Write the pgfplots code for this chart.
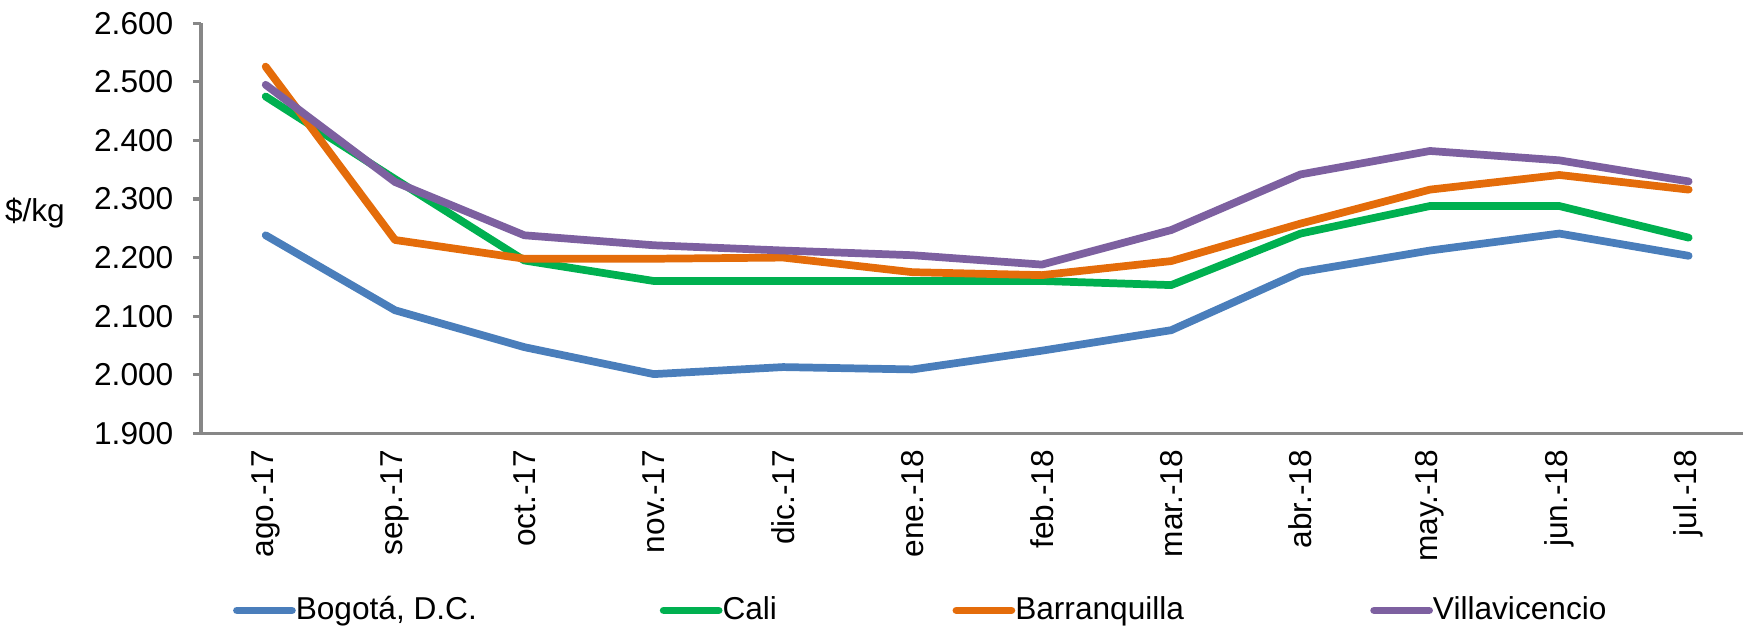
\documentclass[border=0pt]{standalone}
\usepackage{fontspec}
\setmainfont{Liberation Sans}
\usepackage{pgfplots}
\pgfplotsset{compat=1.18}
\definecolor{bogblue}{RGB}{74,126,187}
\definecolor{caligreen}{RGB}{0,176,80}
\definecolor{barorange}{RGB}{228,108,10}
\definecolor{villapurple}{RGB}{125,96,160}
\newcommand{\chartfont}{\fontsize{9}{11}\selectfont}

\begin{document}
\begin{tikzpicture}
\begin{axis}[
  name=ax,
  scale only axis,
  width=15.42cm, height=4.10cm,
  xmin=-0.5, xmax=11.42,
  ymin=1900, ymax=2600,
  ytick distance=100,
  scaled y ticks=false,
  xtick={0,...,11},
  xticklabels={ago.-17,sep.-17,oct.-17,nov.-17,dic.-17,ene.-18,feb.-18,mar.-18,abr.-18,may.-18,jun.-18,jul.-18},
  axis x line*=bottom,
  axis y line*=left,
  axis line style={draw=black!47, line width=0.9pt, -},
  x axis line style={-},
  y axis line style={-},
  tick align=outside,
  x tick style={draw=none},
  y tick style={draw=black!47, line width=0.9pt},
  major tick length=0.8mm,
  /pgf/number format/.cd, 1000 sep={.}, assume math mode=true,
  /pgfplots/.cd,
  tick label style={font=\chartfont},
  xticklabel style={rotate=90, anchor=east, inner sep=0pt, xshift=-0.8mm},
  yticklabel style={inner sep=0pt, xshift=-1.9mm},
  ylabel={\$/kg},
  ylabel style={rotate=-90, font=\chartfont, at={(axis description cs:-0.1077,0.537)}, anchor=center},
  legend columns=4,
  legend style={draw=none, fill=none, font=\chartfont, inner sep=0pt, outer sep=0pt,
    at={(axis description cs:0.0208,-0.432)}, anchor=west,
    nodes={inner sep=0pt},
    /tikz/every odd column/.append style={column sep=0cm}},
  legend image code/.code={\draw[#1] (0cm,0cm) -- (0.55cm,0cm);},
  every axis plot/.append style={line width=2.2pt, line join=round, line cap=round, mark=none},
]
% Bogota, D.C.
\addplot[bogblue] coordinates {(0,2238)(1,2110)(2,2047)(3,2001)(4,2013)(5,2009)(6,2041)(7,2076)(8,2175)(9,2212)(10,2241)(11,2203)};
\addlegendentry{\makebox[3.64cm][l]{Bogotá, D.C.}}
% Cali
\addplot[caligreen] coordinates {(0,2475)(1,2334)(2,2195)(3,2160)(4,2160)(5,2160)(6,2160)(7,2153)(8,2241)(9,2288)(10,2288)(11,2234)};
\addlegendentry{\makebox[2.30cm][l]{Cali}}
% Barranquilla
\addplot[barorange] coordinates {(0,2526)(1,2230)(2,2198)(3,2198)(4,2200)(5,2175)(6,2170)(7,2194)(8,2258)(9,2316)(10,2341)(11,2316)};
\addlegendentry{\makebox[3.55cm][l]{Barranquilla}}
% Villavicencio
\addplot[villapurple] coordinates {(0,2495)(1,2329)(2,2238)(3,2221)(4,2212)(5,2204)(6,2188)(7,2247)(8,2342)(9,2382)(10,2366)(11,2330)};
\addlegendentry{Villavicencio}
\end{axis}
\pgfresetboundingbox
\useasboundingbox ([shift={(-2.01cm,-1.92cm)}]ax.south west) rectangle ([shift={(0cm,0.233cm)}]ax.north east);
\end{tikzpicture}
\end{document}
